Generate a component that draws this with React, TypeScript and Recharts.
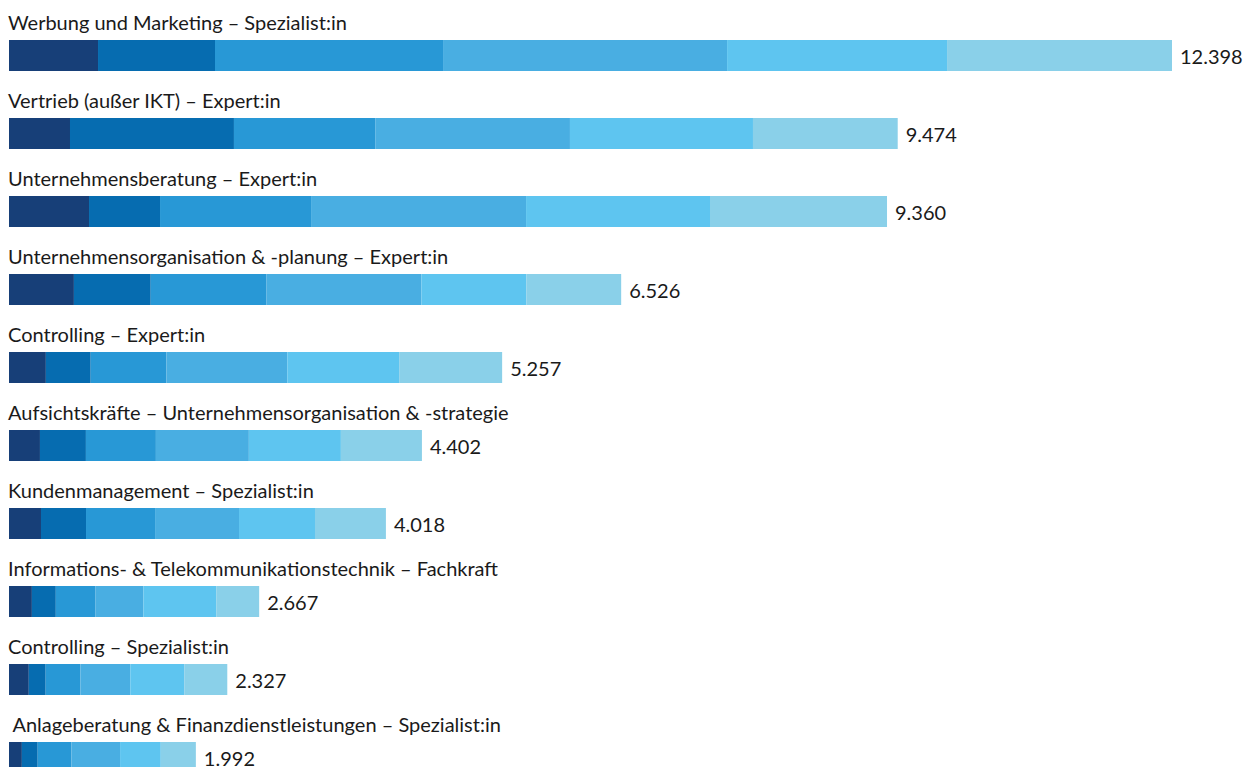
import React from 'react';
import { BarChart, Bar, XAxis, YAxis, LabelList } from 'recharts';

const categories = [
  'Werbung und Marketing – Spezialist:in',
  'Vertrieb (außer IKT) – Expert:in',
  'Unternehmensberatung – Expert:in',
  'Unternehmensorganisation & -planung – Expert:in',
  'Controlling – Expert:in',
  'Aufsichtskräfte – Unternehmensorganisation & -strategie',
  'Kundenmanagement – Spezialist:in',
  'Informations- & Telekommunikationstechnik – Fachkraft',
  'Controlling – Spezialist:in',
  ' Anlageberatung & Finanzdienstleistungen – Spezialist:in',
];

const s1 = [949, 650, 853, 692, 393, 330, 341, 244, 211, 137];
const s2 = [1247, 1748, 757, 819, 478, 490, 480, 255, 180, 169];
const s3 = [2431, 1506, 1610, 1235, 808, 746, 736, 424, 371, 360];
const s4 = [3028, 2076, 2292, 1650, 1288, 991, 895, 510, 531, 518];
const s5 = [2345, 1951, 1961, 1118, 1192, 981, 810, 776, 575, 434];
const s6 = [2398, 1543, 1887, 1012, 1098, 864, 756, 458, 459, 374];
const totals = [12398, 9474, 9360, 6526, 5257, 4402, 4018, 2667, 2327, 1992];

const colors = ['#173f78', '#066cb0', '#2898d6', '#49aee2', '#5ec5f0', '#8ad0e9'];

const data = categories.map((name, i) => ({
  name,
  s1: s1[i],
  s2: s2[i],
  s3: s3[i],
  s4: s4[i],
  s5: s5[i],
  s6: s6[i],
  total: totals[i],
}));

const fmt = (v: number) => String(v).replace(/\B(?=(\d{3})+(?!\d))/g, '.');
const FONT = 'Lato, sans-serif';
const TEXT = '#1a1a1a';

const NameLabel = (props: any) => {
  const { x, y, value } = props;
  return (
    <text x={x - 1} y={y - 10} fill={TEXT} fontFamily={FONT} fontSize={20} style={{ whiteSpace: 'pre' }}>
      {value}
    </text>
  );
};

const TotalLabel = (props: any) => {
  const { x, y, width, height, value } = props;
  return (
    <text x={x + width + 8} y={y + height / 2 + 8} fill={TEXT} fontFamily={FONT} fontSize={20}>
      {fmt(value)}
    </text>
  );
};

export default function App() {
  const maxTotal = Math.max(...totals);
  const keys = ['s1', 's2', 's3', 's4', 's5', 's6'];
  return (
    <div style={{ position: 'fixed', left: 0, top: 0, width: 1251, height: 767, overflow: 'hidden', background: '#fff' }}>
      <BarChart
        width={1251}
        height={796}
        data={data}
        layout="vertical"
        margin={{ top: 16, right: 79, bottom: 0, left: 9 }}
        barSize={31}
      >
        <XAxis type="number" hide domain={[0, maxTotal]} />
        <YAxis type="category" dataKey="name" hide />
        {keys.map((k, i) => (
          <Bar key={k} dataKey={k} stackId="a" fill={colors[i]} isAnimationActive={false}>
            {i === 0 && <LabelList dataKey="name" content={NameLabel} />}
            {i === 5 && <LabelList dataKey="total" content={TotalLabel} />}
          </Bar>
        ))}
      </BarChart>
    </div>
  );
}
